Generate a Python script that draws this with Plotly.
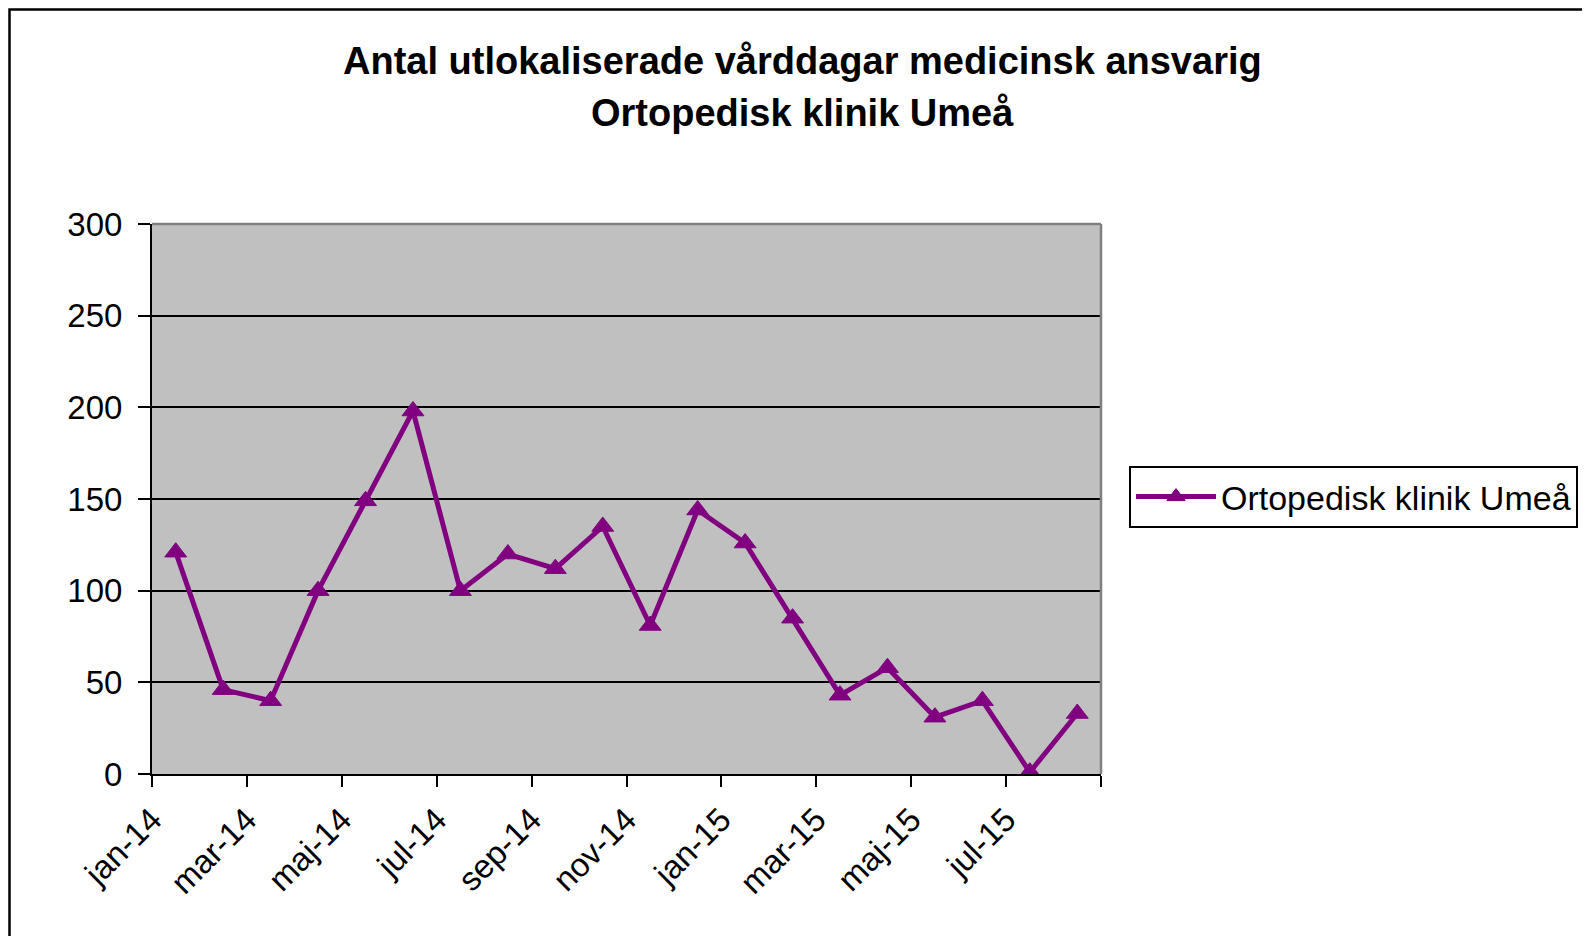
"""
Antal utlokaliserade vårddagar - linjediagram i Excel-stil med Plotly
"""

import plotly.graph_objects as go

# Data
months = ["jan-14", "feb-14", "mar-14", "apr-14", "maj-14", "jun-14",
          "jul-14", "aug-14", "sep-14", "okt-14", "nov-14", "dec-14",
          "jan-15", "feb-15", "mar-15", "apr-15", "maj-15", "jun-15",
          "jul-15", "aug-15"]
values = [121, 46, 40, 100, 149, 198, 100, 120, 112, 135, 81, 144,
          126, 85, 43, 58, 31, 40, 1, 33]
series_name = "Ortopedisk klinik Umeå"
title_lines = ["Antal utlokaliserade vårddagar medicinsk ansvarig",
               "Ortopedisk klinik Umeå"]

FONT = "Arial, Liberation Sans, sans-serif"
PURPLE = "#800080"

# the page body adds an 8px margin, so the figure is 8px smaller
W, H = 1582, 928
L, R, T, B = 144, 489, 216, 162
PW = W - L - R
PH = H - T - B

x_idx = list(range(len(months)))
# ticks at category boundaries, every second month, plus the last edge
tick_vals = [i - 0.5 for i in range(0, len(months) + 1, 2)]
tick_text = months[::2] + [""]

fig = go.Figure()

fig.add_trace(go.Scatter(
    x=x_idx,
    y=values,
    mode="lines+markers",
    name=series_name,
    line=dict(color=PURPLE, width=5),
    marker=dict(symbol="triangle-up", size=19, color=PURPLE,
                line=dict(color=PURPLE, width=1)),
))

# title as two centred lines
title_y = [53, 105]
annotations = []
for line, ty in zip(title_lines, title_y):
    annotations.append(dict(
        text="<b>" + line + "</b>",
        xref="paper", yref="paper",
        x=(794 - L) / PW, y=(H - B - ty) / PH,
        xanchor="center", yanchor="middle",
        showarrow=False,
        font=dict(family=FONT, size=38, color="black"),
    ))

fig.update_layout(
    width=W,
    height=H,
    margin=dict(l=L, r=R, t=T, b=B),
    paper_bgcolor="white",
    plot_bgcolor="#C0C0C0",
    font=dict(family=FONT, size=33, color="black"),
    annotations=annotations,
    showlegend=True,
    legend=dict(
        x=(1121 - L) / PW,
        xanchor="left",
        y=(H - B - 489) / PH,
        yanchor="middle",
        bgcolor="white",
        bordercolor="black",
        borderwidth=2,
        itemwidth=80,
        font=dict(family=FONT, size=34, color="black"),
    ),
    xaxis=dict(
        range=[-0.5, len(months) - 0.5],
        tickmode="array",
        tickvals=tick_vals,
        ticktext=tick_text,
        tickangle=-45,
        ticks="outside",
        ticklen=11,
        tickwidth=2,
        tickcolor="black",
        showline=True,
        linecolor="black",
        linewidth=2,
        showgrid=False,
        zeroline=False,
        tickfont=dict(family=FONT, size=33, color="black"),
    ),
    yaxis=dict(
        range=[0, 300],
        dtick=50,
        ticks="outside",
        ticklen=12,
        tickwidth=2,
        tickcolor="black",
        ticklabelstandoff=9,
        showline=True,
        linecolor="black",
        linewidth=2,
        showgrid=True,
        gridcolor="black",
        gridwidth=2,
        zeroline=False,
        tickfont=dict(family=FONT, size=33, color="black"),
    ),
    shapes=[
        # grey top and right edges of the plot area
        dict(type="line", xref="paper", yref="paper", x0=0, x1=1, y0=1, y1=1,
             line=dict(color="#808080", width=2.5), layer="above"),
        dict(type="line", xref="paper", yref="paper", x0=1, x1=1, y0=0, y1=1,
             line=dict(color="#808080", width=2.5), layer="above"),
        # outer chart border
        dict(type="rect", xref="paper", yref="paper",
             x0=(1.5 - L) / PW, x1=(1579 - L) / PW,
             y0=(H - B - 940) / PH, y1=(H - B - 1.5) / PH,
             line=dict(color="black", width=2.5), fillcolor="rgba(0,0,0,0)",
             layer="below"),
    ],
)

fig.write_html("out.html")
